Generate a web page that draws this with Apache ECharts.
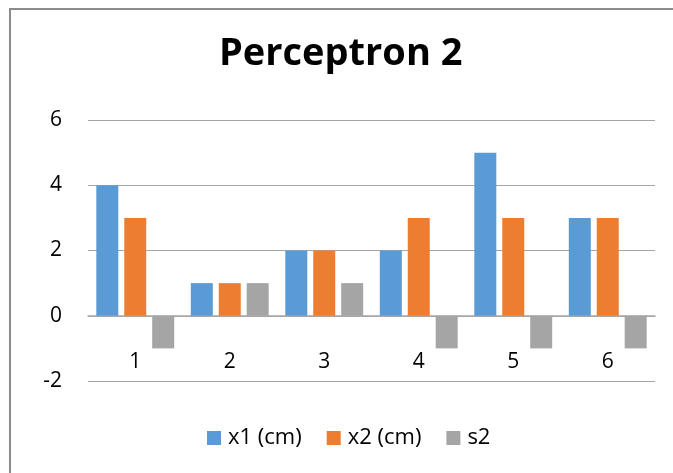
<!DOCTYPE html>
<html><head><meta charset="utf-8">
<script src="https://cdn.jsdelivr.net/npm/echarts@6/dist/echarts.min.js"></script>
<style>html,body{margin:0;padding:0;background:#fff}#c{width:673px;height:473px}</style>
</head><body><div id="c"></div>
<script>
const categories = ['1','2','3','4','5','6'];
const x1 = [4,1,2,2,5,3];
const x2 = [3,1,2,3,3,3];
const s2 = [-1,1,1,-1,-1,-1];
const seriesNames = ['x1 (cm)','x2 (cm)','s2'];
const yTicks = {min:-2, max:6, interval:2};
const colors = ['#5B9BD5','#ED7D31','#A5A5A5'];
const FONT = 'Open Sans';
const chart = echarts.init(document.getElementById('c'), null, {renderer:'canvas'});
const gridTop = 120, gridBottom = 92, H = 473;
const plotH = H - gridTop - gridBottom;
const zeroOffset = plotH * (0 - yTicks.min) / (yTicks.max - yTicks.min);
chart.setOption({
  animation:false,
  color: colors,
  textStyle:{fontFamily:FONT},
  graphic:[{type:'rect', shape:{x:10,y:9,width:700,height:500}, style:{fill:'none', stroke:'#8c8c8c', lineWidth:2}, silent:true, z:-1}],
  title:{text:'Perceptron 2', left:219, top:35, padding:0,
    textStyle:{fontFamily:FONT, fontWeight:'bold', fontSize:38, color:'#000'}},
  legend:{top:422, left:202, itemWidth:14, itemHeight:14, itemGap:25, icon:'rect',
    textStyle:{fontFamily:FONT, fontSize:22, color:'#000', padding:[0,0,0,2]}, data:seriesNames},
  grid:{left:88, right:18, top:gridTop, bottom:gridBottom, containLabel:false},
  xAxis:{type:'category', data:categories, offset:-zeroOffset,
    axisLine:{onZero:false, lineStyle:{color:'#a6a6a6', width:1.5}},
    axisTick:{show:false},
    axisLabel:{margin:36, fontSize:21, color:'#000', fontFamily:FONT}},
  yAxis:{type:'value', min:yTicks.min, max:yTicks.max, interval:yTicks.interval,
    axisLine:{show:false}, axisTick:{show:false},
    splitLine:{lineStyle:{color:'#a6a6a6', width:1.2}},
    axisLabel:{margin:26, fontSize:21, color:'#000', fontFamily:FONT}},
  series:[
    {name:seriesNames[0], type:'bar', data:x1, barWidth:22, barGap:'27%'},
    {name:seriesNames[1], type:'bar', data:x2, barWidth:22, barGap:'27%'},
    {name:seriesNames[2], type:'bar', data:s2, barWidth:22, barGap:'27%'}
  ]
});
</script></body></html>
